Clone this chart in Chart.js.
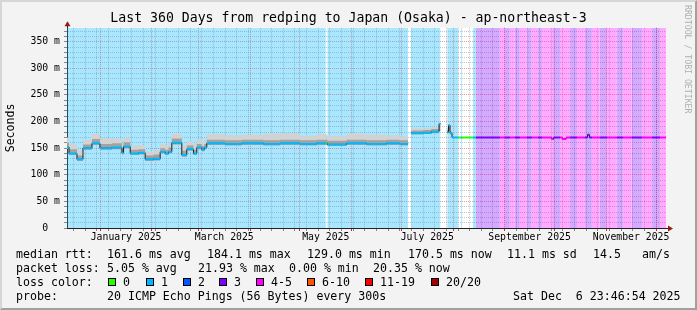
<!DOCTYPE html>
<html lang="en">
<head>
<meta charset="UTF-8">
<title>Last 360 Days from redping to Japan (Osaka) - ap-northeast-3</title>
<script src="https://cdn.jsdelivr.net/npm/chart.js"></script>
<style>
  body { margin: 0; background: #fff; }
  #wrap { position: relative; width: 697px; height: 310px; background: #f3f3f3; font-family: "DejaVu Sans Mono", monospace; overflow: hidden; }
  #chart { position: absolute; left: 0; top: 0; }
  #frame { position: absolute; left: 0; top: 0; right: 0; bottom: 0; border: 2px solid; border-color: #d6d6d6 #a0a0a0 #a0a0a0 #d6d6d6; pointer-events: none; }
  .t { position: absolute; white-space: pre; font-size: 11.6px; line-height: 14px; color: #000; }
  .box { position: absolute; width: 6px; height: 6px; border: 1px solid #000; }
  #wm { position: absolute; left: 683px; top: 5px; writing-mode: vertical-rl; font-size: 8.2px; line-height: 9px; color: #b0b0b0; white-space: pre; }
</style>
</head>
<body>
<div id="wrap">
  <canvas id="chart" width="697" height="310"></canvas>
  <div id="wm">RRDTOOL / TOBI OETIKER</div>
  <div id="frame"></div>
</div>
<script>
// median rtt as a step function: value holds from its day until the next day
const medianDays = [0, 1.2, 6, 9.6, 15, 19.8, 27, 33, 34, 38, 43, 47, 52, 56, 59, 61, 63, 69, 72, 76,
  78, 81, 82.5, 84, 95, 105, 118, 128, 140, 150, 156.5, 168, 180, 192, 200, 205, 206.8, 214, 219, 223.6,
  224.5, 228.5, 229.3, 230.2, 231.4, 291.3, 292.5, 297.6, 300, 312.8, 314, 360];
const medianMs = [152, 140, 129, 150, 159, 150, 151, 141, 153, 140, 141, 129, 130, 143, 140, 143, 160, 137, 148, 140,
  151, 147, 151, 159, 158, 159, 158, 159, 158, 159, 157, 159, 158, 159, 158, null, 178, 179, 181, 196,
  null, 180, 193, 178, 170, 167, 170, 167, 170, 175, 170, 170];
// smoke (spread of the 20 pings) at the same days
const smokeLowMs = [149, 137, 126, 147, 156, 147, 148, 138, 150, 137, 138, 126, 127, 140, 137, 140, 157, 134, 145, 137,
  148, 144, 148, 156, 155, 156, 155, 156, 155, 156, 154, 156, 155, 156, 155, null, 176, 177, 178, 182,
  null, 178, 183, 176, null, null, null, null, null, null, null, null];
const smokeMidMs = [160, 148, 136, 157, 167, 158, 159, 149, 161, 147, 148, 136, 138, 150, 147, 151, 168, 145, 155, 147,
  158, 154, 158, 166, 165, 166, 165, 166, 165, 166, 164, 166, 165, 166, 165, null, 183, 184, 186, 194,
  null, 185, 190, 181, null, null, null, null, null, null, null, null];
const smokeHighMs = [170, 158, 146, 166, 177, 168, 168, 158, 170, 155, 156, 143, 146, 158, 154, 160, 177, 155, 163, 157,
  166, 162, 166, 176, 174, 175, 177, 178, 173, 176, 173, 177, 175, 174, 172, null, 187, 188, 190, 197,
  null, 187, 194, 183, null, null, null, null, null, null, null, null];
// packet loss class per period (index into lossNames), null = no data
const lossDays = [0, 155.6, 156.4, 205, 206.8, 224.5, 228.5, 235, 236.8, 237.5, 244, 245.8, 260.2, 263.2, 266.2,
  269.2, 272.2, 276.4, 279.4, 283.1, 285.5, 292.1, 296.3, 302.3, 306.5, 311.3, 315.5, 320.3, 324.5, 330.5,
  334.1, 339.5, 345.6, 351.6, 356.4, 360];
const lossLevel = [1, 0, 1, null, 1, null, 1, 0, 1, 0, 1, 3, 4, 3, 4,
  3, 4, 3, 4, 3, 4, 3, 4, 3, 4, 3, 4, 3, 4, 3,
  4, 3, 4, 3, 4, 4];
const lossNames = ['0', '1', '2', '3', '4-5', '6-10', '11-19', '20/20'];
const lossColors = ['#26ff00', '#00b8ff', '#0059ff', '#7e00ff', '#ff00fe', '#ff5500', '#ff0000', '#a10000'];
const monthLabels = ['January 2025', 'March 2025', 'May 2025', 'July 2025', 'September 2025', 'November 2025'];
const yStep = 10;
const yMax = 376;

const startMs = Date.UTC(2024, 11, 11, 23, 46, 54);
const dayOf = t => (t - startMs) / 864e5;

function stepAt(days, vals, d) {
    let v = null;
    for (let i = 0; i < days.length; i++) {
        if (days[i] <= d + 1e-9) v = vals[i]; else break;
    }
    return v;
}

function stepPoints(days, vals) {
    const pts = [];
    let prev = null;
    days.forEach((d, i) => {
        const v = vals[i];
        if (v === null && prev !== null) pts.push({ x: d - 0.001, y: prev });
        pts.push({ x: d, y: v });
        prev = v;
    });
    return pts;
}

// loss background: one full-height step per loss period
const bgPts = stepPoints(lossDays, lossLevel.map(l => l === null ? null : 1));

// coloured median: horizontal pieces only, coloured by loss
const unionDays = [...new Set([...medianDays, ...lossDays])].sort((a, b) => a - b);
const bandPts = [];
for (let i = 0; i < unionDays.length - 1; i++) {
    const v = stepAt(medianDays, medianMs, unionDays[i]);
    if (v === null) continue;
    bandPts.push({ x: unionDays[i], y: v }, { x: unionDays[i + 1], y: v }, { x: unionDays[i + 1], y: null });
}

function tint(level) {
    if (level === null || level === 0) return 'rgba(0,0,0,0)';
    return lossColors[level] + '55';
}

const frame = {
    id: 'frame',
    beforeDraw(chart) {
        const { ctx, chartArea: a } = chart;
        ctx.save();
        ctx.fillStyle = '#ffffff';
        ctx.fillRect(a.left, a.top, a.right - a.left, a.bottom - a.top);
        ctx.restore();
    },
    afterDraw(chart) {
        const { ctx, chartArea: a } = chart;
        const x0 = Math.round(a.left) + 0.5, y0 = Math.round(a.bottom) + 0.5;
        ctx.save();
        ctx.strokeStyle = '#222';
        ctx.lineWidth = 1;
        ctx.beginPath();
        ctx.moveTo(x0, a.top); ctx.lineTo(x0, a.top - 3);
        ctx.moveTo(a.right, y0); ctx.lineTo(a.right + 3, y0);
        ctx.stroke();
        ctx.fillStyle = '#9a1a1a';
        ctx.beginPath();
        ctx.moveTo(x0, a.top - 6.5); ctx.lineTo(x0 - 3, a.top - 1.5); ctx.lineTo(x0 + 3, a.top - 1.5);
        ctx.closePath(); ctx.fill();
        ctx.beginPath();
        ctx.moveTo(a.right + 7, y0); ctx.lineTo(a.right + 2, y0 - 3); ctx.lineTo(a.right + 2, y0 + 3);
        ctx.closePath(); ctx.fill();
        ctx.restore();
    }
};

const mono = '"DejaVu Sans Mono", monospace';
const red = 'rgba(255,0,0,0.42)';
const gray = 'rgba(120,120,120,0.42)';

new Chart(document.getElementById('chart'), {
    type: 'line',
    data: {
        datasets: [
            { data: bgPts, yAxisID: 'yb', stepped: true, borderWidth: 0, borderColor: 'rgba(0,0,0,0)', pointRadius: 0,
              fill: 'origin', order: 10, segment: { backgroundColor: c => tint(stepAt(lossDays, lossLevel, bgPts[c.p0DataIndex].x)) } },
            { data: stepPoints(medianDays, smokeLowMs), stepped: true, borderWidth: 0, borderColor: 'rgba(0,0,0,0)',
              pointRadius: 0, fill: false, order: 7 },
            { data: stepPoints(medianDays, smokeHighMs), stepped: true, borderWidth: 0, borderColor: 'rgba(0,0,0,0)',
              pointRadius: 0, fill: 1, backgroundColor: '#d2d2d2', order: 9 },
            { data: stepPoints(medianDays, smokeMidMs), stepped: true, borderWidth: 0, borderColor: 'rgba(0,0,0,0)',
              pointRadius: 0, fill: 1, backgroundColor: '#a2a2a2', order: 8 },
            { data: stepPoints(medianDays, medianMs), stepped: true, borderWidth: 1, borderColor: '#202020',
              pointRadius: 0, fill: false, order: 2 },
            { data: bandPts, borderWidth: 2, borderColor: '#00b8ff', pointRadius: 0, fill: false, order: 1,
              segment: { borderColor: c => lossColors[stepAt(lossDays, lossLevel, bandPts[c.p0DataIndex].x)] || '#00b8ff' } }
        ]
    },
    options: {
        responsive: false,
        animation: false,
        devicePixelRatio: 1,
        spanGaps: false,
        layout: { padding: 0 },
        plugins: {
            legend: { display: false },
            tooltip: { enabled: false },
            title: {
                display: true,
                text: 'Last 360 Days from redping to Japan (Osaka) - ap-northeast-3',
                color: '#000',
                font: { family: mono, size: 13.2, weight: 'normal' },
                padding: { top: 11, bottom: 1 }
            }
        },
        scales: {
            x: {
                type: 'linear', min: 0, max: 360,
                afterFit: s => { s.height = 82; },
                afterBuildTicks: s => {
                    const ticks = [];
                    for (let t = Date.UTC(2024, 11, 16); t < startMs + 360 * 864e5; t += 7 * 864e5) {
                        ticks.push({ value: dayOf(t), kind: 'week' });
                    }
                    for (let m = 0; m < 12; m++) ticks.push({ value: dayOf(Date.UTC(2025, m, 1)), kind: 'month' });
                    monthLabels.forEach((text, i) => {
                        const mid = (Date.UTC(2025, i * 2, 1) + Date.UTC(2025, i * 2 + 1, 1)) / 2;
                        ticks.push({ value: dayOf(mid), kind: 'label', text });
                    });
                    ticks.sort((a, b) => a.value - b.value);
                    s.ticks = ticks;
                },
                ticks: {
                    autoSkip: false, maxRotation: 0, padding: 1, color: '#000',
                    font: { family: mono, size: 9.8 },
                    callback: (v, i, t) => t[i].kind === 'label' ? t[i].text : ''
                },
                grid: {
                    color: c => c.tick.kind === 'label' ? 'rgba(0,0,0,0)' : (c.tick.kind === 'month' ? red : gray),
                    tickColor: c => c.tick.kind === 'label' ? 'rgba(0,0,0,0)' : (c.tick.kind === 'month' ? '#c03030' : '#888'),
                    tickLength: 3, lineWidth: 1
                },
                border: { color: '#222', width: 1, dash: [1, 1] }
            },
            y: {
                min: 0, max: yMax,
                afterFit: s => { s.width = 67; },
                afterBuildTicks: s => {
                    const ticks = [];
                    for (let v = 0; v <= yMax; v += yStep) ticks.push({ value: v });
                    s.ticks = ticks;
                },
                ticks: {
                    autoSkip: false, padding: 4, color: '#000',
                    font: { family: mono, size: 9.8 },
                    callback: v => v % 50 === 0 ? (v === 0 ? '0  ' : v + ' m') : ''
                },
                grid: {
                    color: c => c.tick.value % 50 === 0 ? red : gray,
                    tickColor: '#888',
                    tickLength: 3, lineWidth: 1
                },
                border: { color: '#222', width: 1, dash: [1, 1] },
                title: {
                    display: true, text: 'Seconds', color: '#000',
                    font: { family: mono, size: 11.6 },
                    padding: { top: 4, bottom: 0 }
                }
            },
            // empty right margin for the watermark, keeps the title centred on the whole image
            yr: {
                position: 'right', min: 0, max: 1,
                afterFit: s => { s.width = 31; },
                ticks: { display: false },
                grid: { display: false, drawOnChartArea: false },
                border: { display: false }
            },
            yb: { display: false, min: 0, max: 1 }
        }
    },
    plugins: [frame]
});

// legend lines below the graph
const legendRows = [
    [[16, 'median rtt:'], [107, '161.6 ms avg'], [207, '184.1 ms max'], [307, '129.0 ms min'],
     [408, '170.5 ms now'], [507, '11.1 ms sd'], [593, '14.5'], [642, 'am/s']],
    [[16, 'packet loss:'], [107, '5.05 % avg'], [198, '21.93 % max'], [289, '0.00 % min'], [373, '20.35 % now']],
    [[16, 'loss color:']],
    [[16, 'probe:'], [107, '20 ICMP Echo Pings (56 Bytes) every 300s'], [513, 'Sat Dec  6 23:46:54 2025']]
];
const wrap = document.getElementById('wrap');
const frameDiv = document.getElementById('frame');
legendRows.forEach((row, r) => {
    row.forEach(([x, text]) => {
        const s = document.createElement('span');
        s.className = 't';
        s.style.left = x + 'px';
        s.style.top = (247 + r * 14) + 'px';
        s.textContent = text;
        wrap.insertBefore(s, frameDiv);
    });
});
const boxX = [108, 146, 183, 219, 256, 307, 365, 431];
lossNames.forEach((name, i) => {
    const b = document.createElement('div');
    b.className = 'box';
    b.style.left = boxX[i] + 'px';
    b.style.top = '278px';
    b.style.background = lossColors[i];
    wrap.insertBefore(b, frameDiv);
    const s = document.createElement('span');
    s.className = 't';
    s.style.left = (boxX[i] + 15) + 'px';
    s.style.top = (247 + 2 * 14) + 'px';
    s.textContent = name;
    wrap.insertBefore(s, frameDiv);
});
</script>
</body>
</html>
